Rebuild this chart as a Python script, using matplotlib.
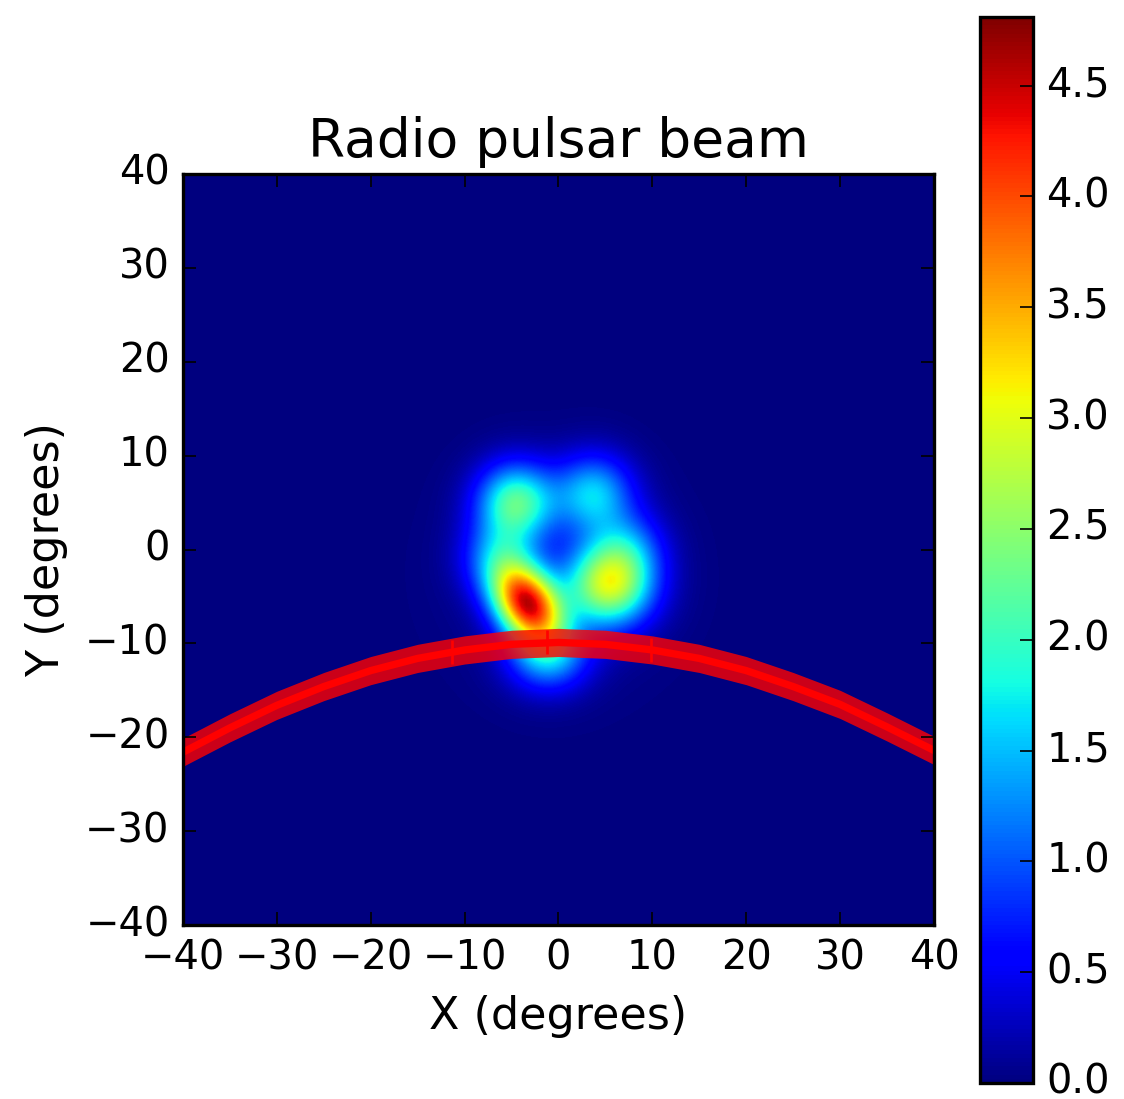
import numpy as np
import matplotlib
matplotlib.use("Agg")
import matplotlib.pyplot as plt

plt.style.use("classic")
plt.rcParams["figure.facecolor"] = "white"
plt.rcParams["savefig.facecolor"] = "white"

# beam patches (gaussian components), degrees
comp_x = [-3.4, 5.4, -4.6, 3.7, -1.2, -6.4, 7.4, 0.0]
comp_y = [-5.8, -3.8, 5.0, 5.9, -11.5, -0.8, 0.3, -3.0]
comp_amp = [4.2, 2.75, 2.1, 1.5, 1.3, 1.0, 0.8, 0.2]
comp_smaj = [3.2, 3.2, 2.9, 2.9, 3.0, 2.7, 2.7, 7.5]
comp_smin = [2.3, 3.1, 2.9, 2.9, 2.6, 2.7, 2.7, 7.5]
comp_ang = [-55, 0, 0, 0, 0, 0, 0, 0]

# line of sight track
track_x = [-40, -35, -30, -25, -20, -15, -10, -5, 0, 5, 10, 15, 20, 25, 30, 35, 40]
track_y = [-21.6, -19.0, -16.6, -14.6, -12.9, -11.6, -10.7, -10.1, -9.9,
           -10.1, -10.7, -11.6, -12.9, -14.6, -16.5, -18.9, -21.4]
mark_x = [-11.3, -1.25, 9.9]
mark_y = [-10.9, -9.9, -10.7]

g = np.linspace(-40, 40, 161)
X, Y = np.meshgrid(g, g)
beam = np.zeros_like(X)
for cx, cy, a, s1, s2, ang in zip(comp_x, comp_y, comp_amp, comp_smaj, comp_smin, comp_ang):
    t = np.deg2rad(ang)
    u = (X - cx) * np.cos(t) + (Y - cy) * np.sin(t)
    v = -(X - cx) * np.sin(t) + (Y - cy) * np.cos(t)
    beam += a * np.exp(-0.5 * ((u / s1) ** 2 + (v / s2) ** 2))

fig = plt.figure(figsize=(1124 / 240, 1099 / 240), dpi=240)
ax = fig.add_axes([0.1619, 0.1583, 0.6699, 0.6834])
cax = fig.add_axes([0.8719, 0.0146, 0.0472, 0.970])

im = ax.imshow(beam, origin="lower", extent=[-40, 40, -40, 40], cmap="jet",
               vmin=0, vmax=4.81, interpolation="bilinear")
tx = np.array(track_x)
ty = np.array(track_y)
ax.fill_between(tx, ty - 1.5, ty + 1.5, color="red", alpha=0.8, lw=0)
ax.plot(tx, ty, color="red", lw=2.2)
ax.plot(mark_x, mark_y, "r+", ms=7, mew=0.8)
ax.set_xlim(-40, 40)
ax.set_ylim(-40, 40)
ax.set_title("Radio pulsar beam", fontsize=16)
ax.set_xlabel("X (degrees)", fontsize=13.3)
ax.set_ylabel("Y (degrees)", fontsize=13.3)

cb = fig.colorbar(im, cax=cax)
cb.set_ticks(np.arange(0, 4.6, 0.5))

fig.savefig("out.png", dpi=240)
